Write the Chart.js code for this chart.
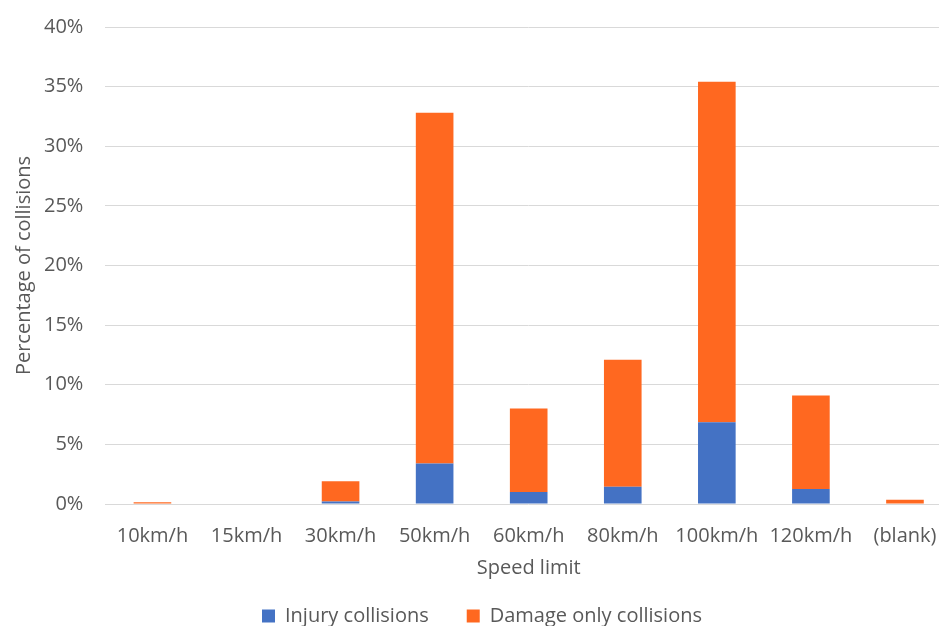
<!DOCTYPE html>
<html>
<head>
<meta charset="utf-8">
<script src="https://cdn.jsdelivr.net/npm/chart.js@4/dist/chart.umd.min.js"></script>
<style>
  html, body { margin: 0; padding: 0; background: #fff; overflow: hidden; }
  #wrap { position: absolute; left: 0; top: -7px; width: 962px; height: 643px; }
</style>
</head>
<body>
<div id="wrap"><canvas id="c"></canvas></div>
<script>
const categories = ["10km/h", "15km/h", "30km/h", "50km/h", "60km/h", "80km/h", "100km/h", "120km/h", "(blank)"];
const injuryCollisions = [0.0, 0.0, 0.2, 3.4, 1.0, 1.45, 6.85, 1.25, 0.0];
const damageOnlyCollisions = [0.15, 0.0, 1.7, 29.4, 7.0, 10.65, 28.55, 7.85, 0.35];
const yTickStep = 5;
const yMax = 40;

const txt = '#595959';
const font = { family: '"Open Sans", sans-serif', size: 20 };

new Chart(document.getElementById('c'), {
  type: 'bar',
  data: {
    labels: categories,
    datasets: [
      { label: 'Injury collisions', data: injuryCollisions, backgroundColor: '#4472C4', borderWidth: 0 },
      { label: 'Damage only collisions', data: damageOnlyCollisions, backgroundColor: '#FF6820', borderWidth: 0 }
    ]
  },
  options: {
    responsive: true,
    maintainAspectRatio: false,
    animation: false,
    devicePixelRatio: 1,
    layout: { padding: { top: 5, right: 10, left: 12, bottom: 0 } },
    datasets: { bar: { categoryPercentage: 1.0, barPercentage: 0.4 } },
    scales: {
      x: {
        stacked: true,
        grid: { display: false, drawTicks: false },
        border: { display: false },
        ticks: { color: txt, font: font, padding: 20, maxRotation: 0, autoSkip: false },
        title: { display: true, text: 'Speed limit', color: txt, font: font, padding: { top: -12, bottom: -12 } }
      },
      y: {
        stacked: true,
        min: 0, max: yMax,
        grid: { color: '#d9d9d9', lineWidth: 1, drawTicks: false },
        border: { display: false },
        ticks: { stepSize: yTickStep, color: txt, font: font, padding: 22,
          callback: v => v + '%' },
        title: { display: true, text: 'Percentage of collisions', color: txt, font: font, padding: { top: 0, bottom: -14 } }
      }
    },
    plugins: {
      legend: {
        position: 'bottom',
        labels: { color: txt, font: font, boxWidth: 13, boxHeight: 13, padding: 38 }
      },
      tooltip: { enabled: false }
    }
  }
});
</script>
</body>
</html>
